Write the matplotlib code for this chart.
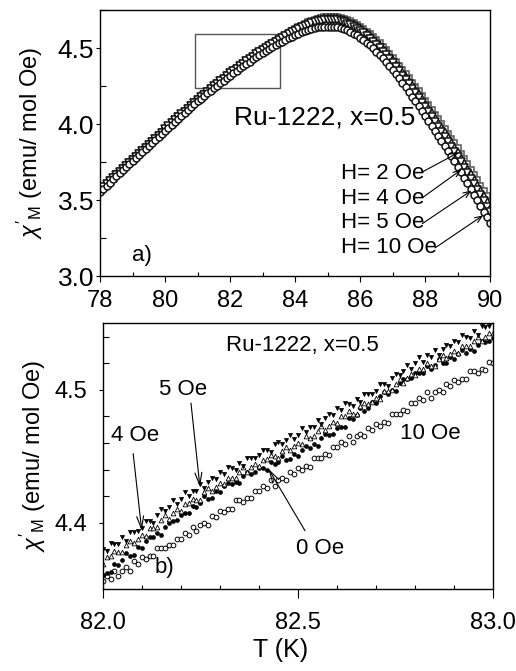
import numpy as np
import matplotlib
matplotlib.use("Agg")
import matplotlib.pyplot as plt
from matplotlib.ticker import MultipleLocator, FormatStrFormatter
from matplotlib.patches import Rectangle

plt.rcParams['font.family'] = ['Liberation Sans', 'DejaVu Sans']
plt.rcParams['mathtext.fontset'] = 'custom'
plt.rcParams['mathtext.rm'] = 'Liberation Sans'
plt.rcParams['mathtext.it'] = 'Liberation Sans:italic'

# ---------------- panel a) data ----------------
T_a = np.round(np.linspace(78.0, 90.0, 121), 1)

chi_2Oe = [
    3.570, 3.590, 3.610, 3.630, 3.650, 3.670, 3.690, 3.710, 3.730, 3.750,
    3.770, 3.790, 3.810, 3.830, 3.850, 3.870, 3.890, 3.910, 3.930, 3.950,
    3.970, 3.990, 4.010, 4.030, 4.050, 4.069, 4.088, 4.107, 4.126, 4.145,
    4.164, 4.182, 4.200, 4.218, 4.236, 4.254, 4.271, 4.288, 4.305, 4.322,
    4.339, 4.355, 4.371, 4.387, 4.403, 4.419, 4.434, 4.449, 4.464, 4.479,
    4.494, 4.508, 4.522, 4.536, 4.549, 4.562, 4.575, 4.588, 4.600, 4.612,
    4.625, 4.637, 4.648, 4.658, 4.668, 4.677, 4.685, 4.692, 4.698, 4.702,
    4.705, 4.706, 4.705, 4.702, 4.698, 4.692, 4.684, 4.675, 4.664, 4.652,
    4.639, 4.624, 4.608, 4.590, 4.571, 4.551, 4.530, 4.508, 4.485, 4.461,
    4.436, 4.410, 4.384, 4.357, 4.329, 4.301, 4.272, 4.243, 4.214, 4.184,
    4.154, 4.124, 4.093, 4.062, 4.031, 4.000, 3.968, 3.936, 3.904, 3.872,
    3.840, 3.805, 3.770, 3.735, 3.700, 3.665, 3.630, 3.595, 3.560, 3.525,
    3.490]

chi_4Oe = [
    3.568, 3.588, 3.608, 3.628, 3.648, 3.668, 3.688, 3.708, 3.728, 3.748,
    3.768, 3.788, 3.808, 3.828, 3.848, 3.868, 3.888, 3.908, 3.928, 3.948,
    3.968, 3.988, 4.008, 4.028, 4.048, 4.067, 4.086, 4.105, 4.124, 4.143,
    4.162, 4.180, 4.198, 4.216, 4.234, 4.252, 4.269, 4.286, 4.303, 4.320,
    4.337, 4.353, 4.369, 4.385, 4.401, 4.417, 4.432, 4.447, 4.462, 4.477,
    4.492, 4.506, 4.520, 4.534, 4.547, 4.560, 4.573, 4.586, 4.598, 4.610,
    4.623, 4.635, 4.645, 4.655, 4.665, 4.673, 4.681, 4.688, 4.693, 4.697,
    4.700, 4.700, 4.699, 4.696, 4.691, 4.685, 4.676, 4.667, 4.655, 4.643,
    4.629, 4.614, 4.597, 4.579, 4.559, 4.539, 4.517, 4.495, 4.471, 4.447,
    4.421, 4.395, 4.368, 4.341, 4.312, 4.284, 4.254, 4.225, 4.195, 4.165,
    4.134, 4.104, 4.072, 4.041, 4.009, 3.978, 3.945, 3.913, 3.880, 3.848,
    3.815, 3.779, 3.743, 3.707, 3.671, 3.635, 3.599, 3.563, 3.527, 3.491,
    3.455]

chi_5Oe = [
    3.564, 3.584, 3.604, 3.624, 3.644, 3.664, 3.684, 3.704, 3.724, 3.744,
    3.764, 3.784, 3.804, 3.824, 3.844, 3.864, 3.884, 3.904, 3.924, 3.944,
    3.964, 3.984, 4.004, 4.024, 4.044, 4.063, 4.082, 4.101, 4.120, 4.139,
    4.158, 4.176, 4.194, 4.212, 4.230, 4.248, 4.265, 4.282, 4.299, 4.316,
    4.333, 4.349, 4.365, 4.381, 4.397, 4.413, 4.428, 4.443, 4.458, 4.473,
    4.488, 4.502, 4.515, 4.529, 4.541, 4.554, 4.567, 4.579, 4.591, 4.602,
    4.615, 4.626, 4.636, 4.645, 4.654, 4.662, 4.669, 4.675, 4.680, 4.683,
    4.685, 4.686, 4.684, 4.681, 4.676, 4.670, 4.661, 4.652, 4.640, 4.628,
    4.614, 4.598, 4.581, 4.562, 4.542, 4.521, 4.499, 4.476, 4.452, 4.427,
    4.401, 4.374, 4.347, 4.319, 4.290, 4.261, 4.231, 4.201, 4.171, 4.140,
    4.109, 4.078, 4.046, 4.014, 3.982, 3.950, 3.917, 3.884, 3.851, 3.818,
    3.785, 3.749, 3.712, 3.676, 3.639, 3.603, 3.566, 3.530, 3.493, 3.457,
    3.420]

chi_10Oe = [
    3.555, 3.575, 3.595, 3.615, 3.635, 3.655, 3.675, 3.695, 3.715, 3.735,
    3.755, 3.775, 3.795, 3.815, 3.835, 3.855, 3.875, 3.895, 3.915, 3.935,
    3.955, 3.975, 3.995, 4.015, 4.035, 4.054, 4.073, 4.092, 4.111, 4.130,
    4.149, 4.167, 4.184, 4.202, 4.219, 4.237, 4.253, 4.270, 4.286, 4.303,
    4.319, 4.335, 4.350, 4.366, 4.381, 4.397, 4.411, 4.426, 4.440, 4.455,
    4.469, 4.482, 4.494, 4.507, 4.518, 4.530, 4.541, 4.553, 4.563, 4.574,
    4.585, 4.595, 4.603, 4.611, 4.618, 4.625, 4.630, 4.635, 4.638, 4.640,
    4.640, 4.641, 4.639, 4.636, 4.631, 4.625, 4.616, 4.607, 4.595, 4.583,
    4.569, 4.553, 4.536, 4.517, 4.497, 4.476, 4.454, 4.431, 4.407, 4.382,
    4.356, 4.328, 4.300, 4.271, 4.241, 4.211, 4.180, 4.149, 4.118, 4.086,
    4.054, 4.022, 3.989, 3.956, 3.923, 3.890, 3.856, 3.822, 3.788, 3.754,
    3.720, 3.683, 3.646, 3.609, 3.572, 3.535, 3.498, 3.461, 3.424, 3.387,
    3.350]

labels_a = ["H= 2 Oe", "H= 4 Oe", "H= 5 Oe", "H= 10 Oe"]
xticks_a = [78, 80, 82, 84, 86, 88, 90]
yticks_a = [3.0, 3.5, 4.0, 4.5]

# ---------------- panel b) data ----------------
T_b = np.round(np.linspace(82.0, 83.0, 101), 2)

chi_b_5Oe = [
    4.380, 4.379, 4.385, 4.384, 4.384, 4.389, 4.386, 4.393, 4.393, 4.394,
    4.396, 4.401, 4.401, 4.400, 4.406, 4.410, 4.409, 4.412, 4.417, 4.414,
    4.418, 4.423, 4.420, 4.424, 4.424, 4.429, 4.426, 4.431, 4.434, 4.433,
    4.438, 4.437, 4.442, 4.441, 4.440, 4.445, 4.443, 4.449, 4.449, 4.449,
    4.451, 4.455, 4.455, 4.453, 4.459, 4.461, 4.459, 4.462, 4.466, 4.463,
    4.466, 4.471, 4.468, 4.472, 4.472, 4.477, 4.474, 4.479, 4.482, 4.481,
    4.486, 4.485, 4.490, 4.489, 4.488, 4.493, 4.491, 4.497, 4.497, 4.497,
    4.499, 4.504, 4.504, 4.503, 4.509, 4.512, 4.511, 4.514, 4.519, 4.516,
    4.520, 4.525, 4.521, 4.526, 4.525, 4.530, 4.526, 4.531, 4.534, 4.533,
    4.537, 4.536, 4.541, 4.540, 4.539, 4.544, 4.541, 4.548, 4.547, 4.548,
    4.551]

chi_b_4Oe = [
    4.369, 4.374, 4.375, 4.379, 4.378, 4.378, 4.383, 4.386, 4.385, 4.388,
    4.391, 4.390, 4.396, 4.396, 4.397, 4.402, 4.406, 4.403, 4.407, 4.410,
    4.409, 4.414, 4.415, 4.418, 4.417, 4.417, 4.423, 4.426, 4.424, 4.427,
    4.430, 4.429, 4.434, 4.434, 4.434, 4.438, 4.442, 4.438, 4.442, 4.444,
    4.443, 4.447, 4.448, 4.451, 4.450, 4.449, 4.454, 4.457, 4.455, 4.458,
    4.460, 4.459, 4.465, 4.464, 4.465, 4.469, 4.473, 4.470, 4.473, 4.476,
    4.475, 4.480, 4.480, 4.484, 4.482, 4.482, 4.488, 4.490, 4.489, 4.491,
    4.494, 4.493, 4.499, 4.499, 4.500, 4.504, 4.508, 4.505, 4.509, 4.512,
    4.511, 4.516, 4.516, 4.520, 4.518, 4.518, 4.523, 4.526, 4.524, 4.527,
    4.529, 4.528, 4.533, 4.533, 4.533, 4.537, 4.540, 4.537, 4.540, 4.543,
    4.543]

chi_b_0Oe = [
    4.361, 4.362, 4.363, 4.369, 4.368, 4.372, 4.377, 4.375, 4.376, 4.382,
    4.381, 4.386, 4.389, 4.389, 4.392, 4.391, 4.397, 4.400, 4.401, 4.402,
    4.406, 4.407, 4.407, 4.413, 4.412, 4.415, 4.420, 4.418, 4.419, 4.424,
    4.423, 4.428, 4.430, 4.429, 4.431, 4.430, 4.435, 4.438, 4.437, 4.438,
    4.441, 4.441, 4.440, 4.446, 4.444, 4.446, 4.450, 4.447, 4.448, 4.452,
    4.450, 4.455, 4.458, 4.456, 4.459, 4.458, 4.464, 4.467, 4.466, 4.467,
    4.471, 4.472, 4.472, 4.479, 4.478, 4.481, 4.486, 4.484, 4.486, 4.491,
    4.490, 4.495, 4.498, 4.497, 4.500, 4.499, 4.505, 4.508, 4.508, 4.509,
    4.513, 4.513, 4.513, 4.518, 4.516, 4.519, 4.523, 4.520, 4.520, 4.525,
    4.523, 4.527, 4.530, 4.528, 4.531, 4.529, 4.534, 4.537, 4.536, 4.537,
    4.539]

chi_b_10Oe = [
    4.356, 4.360, 4.358, 4.364, 4.360, 4.364, 4.367, 4.364, 4.371, 4.369,
    4.374, 4.373, 4.375, 4.375, 4.381, 4.381, 4.381, 4.383, 4.383, 4.388,
    4.388, 4.392, 4.391, 4.397, 4.394, 4.398, 4.400, 4.398, 4.405, 4.404,
    4.409, 4.408, 4.410, 4.410, 4.417, 4.417, 4.416, 4.419, 4.419, 4.424,
    4.424, 4.428, 4.426, 4.432, 4.428, 4.432, 4.434, 4.432, 4.438, 4.437,
    4.441, 4.440, 4.443, 4.442, 4.449, 4.449, 4.449, 4.452, 4.451, 4.457,
    4.457, 4.461, 4.459, 4.465, 4.461, 4.465, 4.467, 4.465, 4.471, 4.470,
    4.474, 4.473, 4.476, 4.475, 4.482, 4.482, 4.482, 4.485, 4.484, 4.490,
    4.490, 4.494, 4.492, 4.498, 4.494, 4.498, 4.500, 4.498, 4.504, 4.503,
    4.507, 4.506, 4.508, 4.508, 4.514, 4.514, 4.513, 4.516, 4.515, 4.521,
    4.520]

xticks_b = [82.0, 82.5, 83.0]
yticks_b = [4.4, 4.5]

# ---------------- figure ----------------
W, H = 516, 671
fig = plt.figure(figsize=(W / 100, H / 100), dpi=100)

def fr(x0, y0, x1, y1):
    return [x0 / W, 1 - y1 / H, (x1 - x0) / W, (y1 - y0) / H]

ax1 = fig.add_axes(fr(100, 10, 490, 276))
ax2 = fig.add_axes(fr(102.7, 323.3, 493.3, 589.3))

ec = '#141414'
ax1.plot(T_a, chi_2Oe, ls='none', marker='s', ms=4.8, mfc='white', mec='#555555', mew=1.1)
ax1.plot(T_a, chi_4Oe, ls='none', marker='^', ms=5.6, mfc='white', mec=ec, mew=1.1)
ax1.plot(T_a, chi_5Oe, ls='none', marker='v', ms=5.6, mfc='white', mec=ec, mew=1.1)
ax1.plot(T_a, chi_10Oe, ls='none', marker='o', ms=5.0, mfc='white', mec=ec, mew=1.1)

ax1.set_xlim(78, 90)
ax1.set_ylim(3.0, 4.75)
ax1.set_xticks(xticks_a)
ax1.set_yticks(yticks_a)
ax1.xaxis.set_minor_locator(MultipleLocator(1))
ax1.yaxis.set_minor_locator(MultipleLocator(0.25))
ax1.yaxis.set_major_formatter(FormatStrFormatter('%.1f'))
ax1.tick_params(axis='x', which='major', direction='out', length=4.3, width=0.8,
                labelsize=17, pad=6)
ax1.tick_params(axis='x', which='minor', direction='in', length=3.0, width=0.8)
ax1.tick_params(axis='y', which='major', direction='out', length=2.6, width=0.8,
                labelsize=19, pad=1.5)
ax1.tick_params(axis='y', which='minor', direction='in', length=4.3, width=0.8)

ax1.add_patch(Rectangle((80.92, 4.24), 83.54 - 80.92, 4.59 - 4.24,
                        fill=False, ec='#555555', lw=1.0, zorder=1))
ax1.text(84.92, 4.04, "Ru-1222, x=0.5", fontsize=19, ha='center', va='center')
ax1.text(78.98, 3.137, "a)", fontsize=16, ha='left', va='center')

txt_y = [3.675, 3.508, 3.355, 3.188]
tips = [(89.03, 3.812), (89.12, 3.70), (89.43, 3.562), (89.79, 3.399)]
starts = [(87.92, 3.685), (87.92, 3.515), (87.92, 3.345), (88.31, 3.185)]
for lab, ty, st, tp in zip(labels_a, txt_y, starts, tips):
    ax1.text(85.41, ty, lab, fontsize=16, ha='left', va='center')
    ax1.annotate('', xy=tp, xytext=st,
                 arrowprops=dict(arrowstyle='->,head_length=0.5,head_width=0.2',
                                 lw=0.8, color='black', shrinkA=0, shrinkB=0))

# panel b
ax2.plot(T_b, chi_b_10Oe, ls='none', marker='o', ms=3.4, mfc='white', mec='black', mew=0.7)
ax2.plot(T_b, chi_b_0Oe, ls='none', marker='o', ms=2.8, mfc='black', mec='black', mew=0.5)
ax2.plot(T_b, chi_b_4Oe, ls='none', marker='^', ms=3.4, mfc='white', mec='black', mew=0.6)
ax2.plot(T_b, chi_b_5Oe, ls='none', marker='v', ms=3.0, mfc='black', mec='black', mew=0.5)

ax2.set_xlim(82.0, 83.0)
ax2.set_ylim(4.35, 4.55)
ax2.set_xticks(xticks_b)
ax2.set_yticks(yticks_b)
ax2.xaxis.set_minor_locator(MultipleLocator(0.1))
ax2.yaxis.set_minor_locator(MultipleLocator(0.02))
ax2.xaxis.set_major_formatter(FormatStrFormatter('%.1f'))
ax2.yaxis.set_major_formatter(FormatStrFormatter('%.1f'))
ax2.tick_params(axis='x', which='major', direction='out', length=6.5, width=0.8,
                labelsize=17, pad=10)
ax2.tick_params(axis='x', which='minor', direction='in', length=3.0, width=0.8)
ax2.tick_params(axis='y', which='major', direction='out', length=3.0, width=0.8,
                labelsize=17, pad=8)
ax2.tick_params(axis='y', which='minor', direction='in', length=4.0, width=0.8)

ax2.text(82.51, 4.5336, "Ru-1222, x=0.5", fontsize=16, ha='center', va='center')
ax2.text(82.207, 4.500, "5 Oe", fontsize=16, ha='center', va='center')
ax2.text(82.084, 4.4658, "4 Oe", fontsize=16, ha='center', va='center')
ax2.text(82.556, 4.3804, "0 Oe", fontsize=16, ha='center', va='center')
ax2.text(82.840, 4.4671, "10 Oe", fontsize=16, ha='center', va='center')
ax2.text(82.134, 4.3666, "b)", fontsize=16, ha='left', va='center')

arrows_b = [((82.226, 4.490), (82.249, 4.4268)),
            ((82.078, 4.452), (82.100, 4.394)),
            ((82.518, 4.394), (82.424, 4.4407))]
for st, tp in arrows_b:
    ax2.annotate('', xy=tp, xytext=st,
                 arrowprops=dict(arrowstyle='->,head_length=0.9,head_width=0.25',
                                 lw=0.8, color='black', shrinkA=0, shrinkB=0))

for ax in (ax1, ax2):
    for s in ax.spines.values():
        s.set_linewidth(1.0)

ylab = r"$\chi'_{\mathrm{M}}$ (emu/ mol Oe)"
fig.text(30 / W, 1 - 143 / H, ylab, rotation=90, fontsize=17, ha='center', va='center')
fig.text(33 / W, 1 - 456 / H, ylab, rotation=90, fontsize=17, ha='center', va='center')
fig.text(281 / W, 1 - 650 / H, "T (K)", fontsize=18, ha='center', va='center')

fig.savefig("out.png", dpi=100)
